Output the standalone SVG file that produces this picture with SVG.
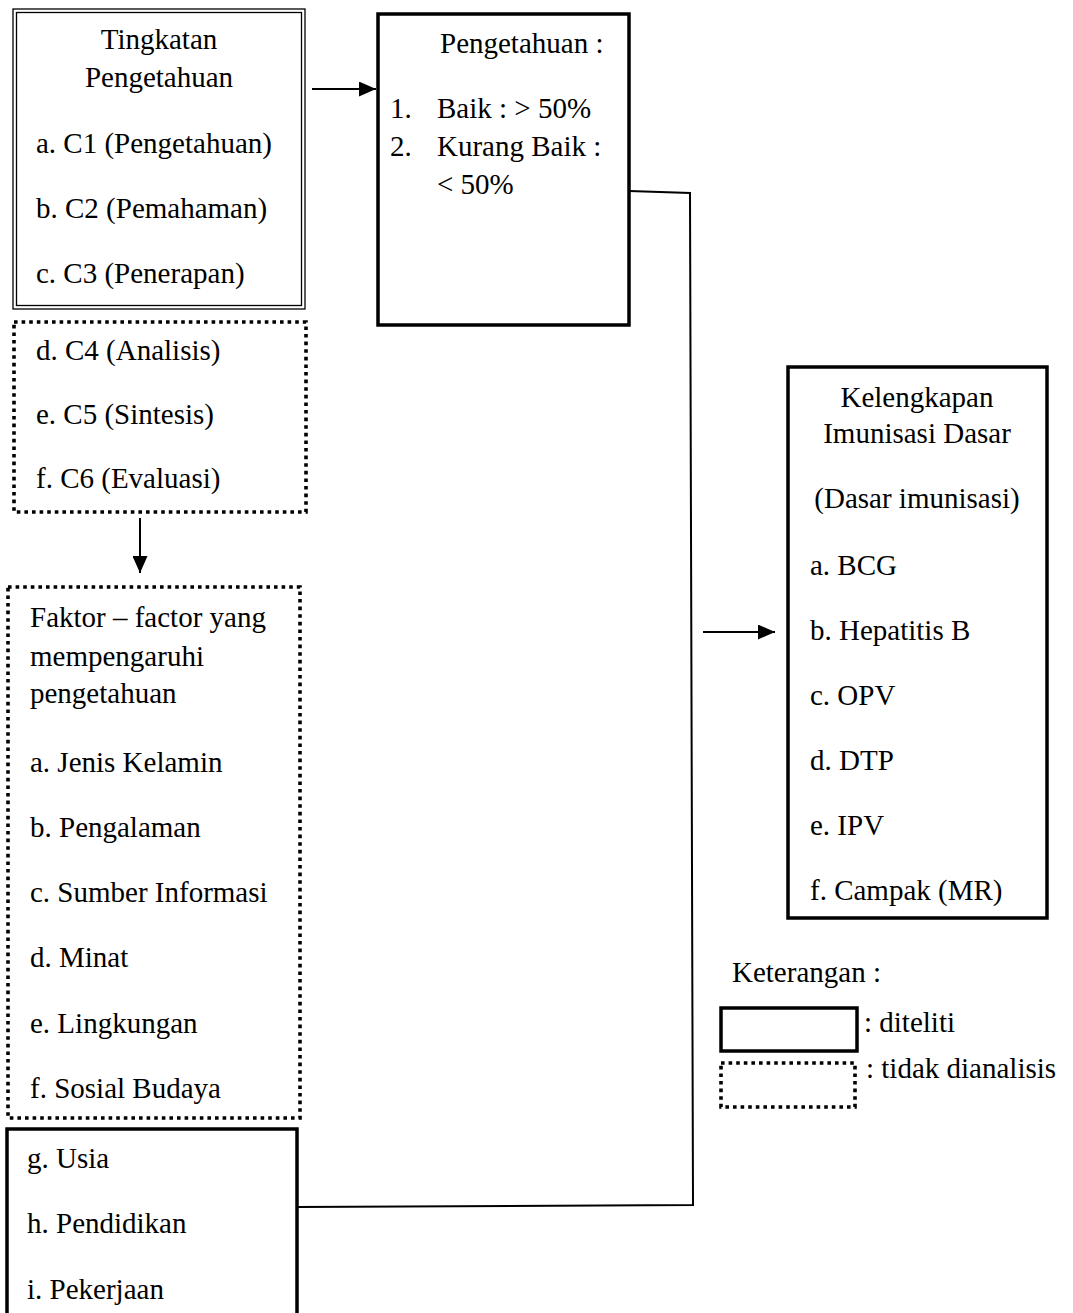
<svg xmlns="http://www.w3.org/2000/svg" width="1073" height="1313" viewBox="0 0 1073 1313">
<style>
text{font-family:"Liberation Serif","Times New Roman",serif;font-size:29px;fill:#000}
.c{text-anchor:middle}
.solid{fill:none;stroke:#000;stroke-width:3.5}
.dot{fill:none;stroke:#000;stroke-width:3.6;stroke-dasharray:3.6 4}
.thin{fill:none;stroke:#000;stroke-width:1.3}
.ln{fill:none;stroke:#000;stroke-width:2}
</style>
<defs>
<marker id="ah" markerWidth="17" markerHeight="15" refX="17" refY="7.5" orient="auto" markerUnits="userSpaceOnUse">
<path d="M0,0 L17,7.5 L0,15 Z" fill="#000"/>
</marker>
</defs>
<rect width="1073" height="1313" fill="#fff"/>
<g id="connectors">
<line class="ln" x1="312" y1="89" x2="376" y2="89" marker-end="url(#ah)"/>
<line class="ln" x1="140" y1="518" x2="140" y2="573" marker-end="url(#ah)"/>
<line class="ln" x1="703" y1="632" x2="775" y2="632" marker-end="url(#ah)"/>
<path class="ln" d="M629,191 L690,193 L693,1205 L297,1207"/>
</g>
<g id="tingkatan">
<rect class="thin" x="13" y="9" width="292" height="300"/>
<rect class="thin" x="16.5" y="12.5" width="285" height="293"/>
<text class="c" x="159" y="49">Tingkatan</text>
<text class="c" x="159" y="87">Pengetahuan</text>
<text x="36" y="153">a. C1 (Pengetahuan)</text>
<text x="36" y="218">b. C2 (Pemahaman)</text>
<text x="36" y="283">c. C3 (Penerapan)</text>
</g>
<g id="tingkatan-lanjut">
<rect class="dot" x="14" y="322" width="292" height="190"/>
<text x="36" y="360">d. C4 (Analisis)</text>
<text x="36" y="424">e. C5 (Sintesis)</text>
<text x="36" y="488">f. C6 (Evaluasi)</text>
</g>
<g id="pengetahuan">
<rect class="solid" x="378" y="14" width="251" height="311"/>
<text x="440" y="53">Pengetahuan :</text>
<text x="390" y="118">1.</text>
<text x="437" y="118">Baik : &gt; 50%</text>
<text x="390" y="156">2.</text>
<text x="437" y="156">Kurang Baik :</text>
<text x="437" y="194">&lt; 50%</text>
</g>
<g id="faktor">
<rect class="dot" x="8" y="587" width="292" height="531"/>
<text x="30" y="627">Faktor – factor yang</text>
<text x="30" y="666">mempengaruhi</text>
<text x="30" y="703">pengetahuan</text>
<text x="30" y="772">a. Jenis Kelamin</text>
<text x="30" y="837">b. Pengalaman</text>
<text x="30" y="902">c. Sumber Informasi</text>
<text x="30" y="967">d. Minat</text>
<text x="30" y="1033">e. Lingkungan</text>
<text x="30" y="1098">f. Sosial Budaya</text>
</g>
<g id="faktor-diteliti">
<rect class="solid" x="7" y="1129" width="290" height="200"/>
<text x="27" y="1168">g. Usia</text>
<text x="27" y="1233">h. Pendidikan</text>
<text x="27" y="1299">i. Pekerjaan</text>
</g>
<g id="kelengkapan">
<rect class="solid" x="788" y="367" width="259" height="551"/>
<text class="c" x="917" y="407">Kelengkapan</text>
<text class="c" x="917" y="443">Imunisasi Dasar</text>
<text class="c" x="917" y="508">(Dasar imunisasi)</text>
<text x="810" y="575">a. BCG</text>
<text x="810" y="640">b. Hepatitis B</text>
<text x="810" y="705">c. OPV</text>
<text x="810" y="770">d. DTP</text>
<text x="810" y="835">e. IPV</text>
<text x="810" y="900">f. Campak (MR)</text>
</g>
<g id="legend">
<text x="732" y="982">Keterangan :</text>
<rect class="solid" x="721" y="1008" width="136" height="43"/>
<text x="864" y="1032">: diteliti</text>
<rect class="dot" x="721" y="1063" width="134" height="44"/>
<text x="866" y="1078">: tidak dianalisis</text>
</g>
</svg>
